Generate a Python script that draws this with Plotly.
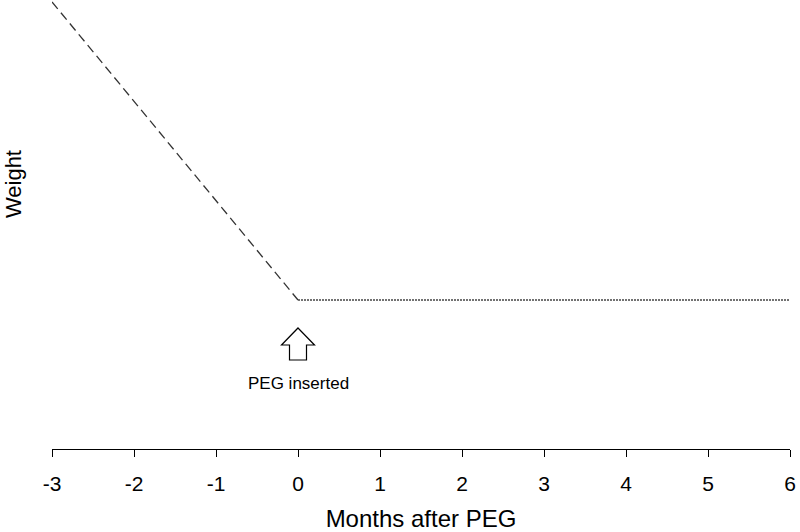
import plotly.graph_objects as go

# Data
pre_months = [-3, 0]
pre_weight = [100, 80]
post_months = [0, 6]
post_weight = [80, 80]
tick_vals = [-3, -2, -1, 0, 1, 2, 3, 4, 5, 6]
tick_text = ["-3", "-2", "-1", "0", "1", "2", "3", "4", "5", "6"]
peg_month = 0
peg_weight = 80

FONT = "Liberation Sans, Arial, sans-serif"

fig = go.Figure()
fig.add_trace(go.Scatter(x=pre_months, y=pre_weight, mode="lines",
                         line=dict(color="#333333", width=1.3, dash="9px,5px"),
                         showlegend=False, hoverinfo="skip"))
fig.add_trace(go.Scatter(x=post_months, y=post_weight, mode="lines",
                         line=dict(color="#444444", width=1.4, dash="2px,1px"),
                         showlegend=False, hoverinfo="skip"))

# Block arrow (pixel-sized, anchored at PEG point)
arrow_path = ("M 0 -28 L 16.5 -45 L 8.5 -45 L 8.5 -60 L -8.5 -60 "
              "L -8.5 -45 L -16.5 -45 Z")
fig.add_shape(type="path", xref="x", yref="y", xsizemode="pixel", ysizemode="pixel",
              xanchor=peg_month, yanchor=peg_weight, path=arrow_path,
              line=dict(color="black", width=1.2), fillcolor="white")

fig.add_annotation(x=peg_month, y=peg_weight, xref="x", yref="y", text="PEG inserted",
                   showarrow=False, yshift=-84, font=dict(family=FONT, size=17, color="black"))

fig.add_annotation(x=0, y=0.59, xref="paper", yref="paper", xanchor="center", yanchor="middle",
                   xshift=-39, text="Weight", textangle=-90, showarrow=False,
                   font=dict(family=FONT, size=22, color="black"))

fig.update_layout(
    width=800, height=532,
    margin=dict(l=52, r=10, t=0, b=83),
    paper_bgcolor="white", plot_bgcolor="white",
    font=dict(family=FONT, color="black"),
    xaxis=dict(range=[-3, 6], tickmode="array", tickvals=tick_vals, ticktext=tick_text,
               showgrid=False, zeroline=False, showline=True, linecolor="black", linewidth=1.3,
               ticks="outside", ticklen=7, tickwidth=1.3, tickcolor="black",
               ticklabelstandoff=9,
               tickfont=dict(family=FONT, size=21, color="black"),
               title=dict(text="Months after PEG", font=dict(family=FONT, size=24, color="black"),
                          standoff=15)),
    yaxis=dict(range=[70, 100.13], visible=False),
)

fig.write_html("out.html", config={"displayModeBar": False},
               post_script="document.body.style.margin='0';")
